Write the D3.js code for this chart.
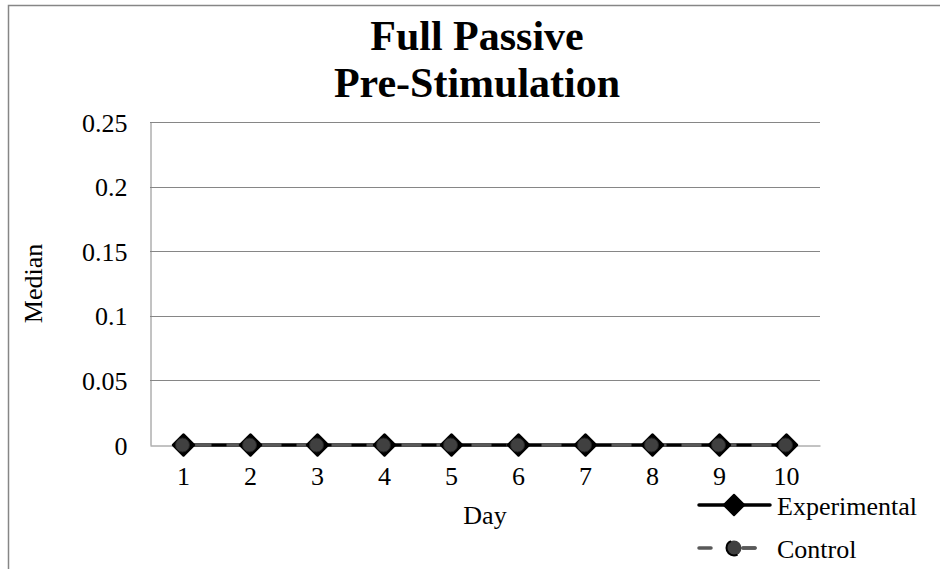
<!DOCTYPE html>
<html>
<head>
<meta charset="utf-8">
<script src="https://cdn.jsdelivr.net/npm/d3@7"></script>
<style>
  html, body { margin: 0; padding: 0; background: #fff; }
  svg { display: block; }
  text { font-family: "Liberation Serif", "Times New Roman", serif; fill: #000; }
</style>
</head>
<body>
<script>
const days = [1, 2, 3, 4, 5, 6, 7, 8, 9, 10];
const experimental = [0, 0, 0, 0, 0, 0, 0, 0, 0, 0];
const control = [0, 0, 0, 0, 0, 0, 0, 0, 0, 0];
const yTicks = [0, 0.05, 0.1, 0.15, 0.2, 0.25];
const titleLines = ["Full Passive", "Pre-Stimulation"];
const seriesNames = ["Experimental", "Control"];

const W = 940, H = 569;
const m = { left: 150, right: 120, top: 122, bottom: 124 };
const FS = 26;

const svg = d3.select("body").append("svg").attr("width", W).attr("height", H);

// outer chart border (only top and left visible in frame)
svg.append("rect")
  .attr("x", 8.5).attr("y", 5.5)
  .attr("width", 960).attr("height", 600)
  .attr("fill", "none").attr("stroke", "#868686").attr("stroke-width", 1.5);

const x = d3.scaleBand().domain(days).range([m.left, W - m.right]);
const y = d3.scaleLinear().domain([0, 0.25]).range([H - m.bottom, m.top]);

// gridlines
svg.append("g").selectAll("line").data(yTicks.filter(d => d > 0)).join("line")
  .attr("x1", m.left).attr("x2", W - m.right)
  .attr("y1", d => Math.round(y(d)) + 0.5).attr("y2", d => Math.round(y(d)) + 0.5)
  .attr("stroke", "#868686").attr("stroke-width", 1);

// y axis
const yAxis = svg.append("g")
  .attr("transform", `translate(${m.left + 0.5},0)`)
  .call(d3.axisLeft(y).tickValues(yTicks).tickSize(0).tickPadding(23).tickFormat(d => String(d)));
yAxis.attr("font-size", FS).attr("font-family", null);
yAxis.select(".domain").attr("stroke", "#868686").attr("stroke-width", 1);
yAxis.selectAll("text").attr("dy", "0.35em");

// x axis
const xAxis = svg.append("g")
  .attr("transform", `translate(0,${Math.round(y(0)) + 0.5})`)
  .call(d3.axisBottom(x).tickSize(0).tickPadding(21));
xAxis.attr("font-size", FS).attr("font-family", null);
xAxis.select(".domain").attr("stroke", "#868686").attr("stroke-width", 1);

// axis titles
svg.append("text")
  .attr("transform", `translate(42,${(y(0) + y(0.25)) / 2}) rotate(-90)`)
  .attr("text-anchor", "middle").attr("font-size", FS).text("Median");
svg.append("text")
  .attr("x", (m.left + W - m.right) / 2).attr("y", 524)
  .attr("text-anchor", "middle").attr("font-size", FS).text("Day");

// title
svg.append("g").selectAll("text").data(titleLines).join("text")
  .attr("x", 477)
  .attr("y", (d, i) => 50 + i * 47)
  .attr("text-anchor", "middle").attr("font-size", 42).attr("font-weight", "bold")
  .text(d => d);

const cx = (d, i) => x(days[i]) + x.bandwidth() / 2;
const line = d3.line().x((d, i) => x(days[i]) + x.bandwidth() / 2).y(d => y(d));

// experimental line
svg.append("path").datum(experimental)
  .attr("d", line).attr("fill", "none").attr("stroke", "#000").attr("stroke-width", 3.5);
// control line (dashed)
svg.append("path").datum(control)
  .attr("d", line).attr("fill", "none").attr("stroke", "#595959").attr("stroke-width", 3.5)
  .attr("stroke-dasharray", "20,15").attr("stroke-dashoffset", -8);

const diamond = d3.symbol().type(d3.symbolSquare).size(210);

// experimental markers
svg.append("g").selectAll("path").data(experimental).join("path")
  .attr("d", diamond())
  .attr("transform", (d, i) => `translate(${cx(d, i)},${y(d)}) rotate(45)`)
  .attr("fill", "#000").attr("stroke", "#000").attr("stroke-width", 3).attr("stroke-linejoin", "round");
// control markers
svg.append("g").selectAll("circle").data(control).join("circle")
  .attr("cx", (d, i) => cx(d, i) - 1).attr("cy", d => y(d))
  .attr("r", 7).attr("fill", "#404040").attr("stroke", "#222").attr("stroke-width", 1);

// legend
const lg = svg.append("g");
const legY = [505, 548];
// experimental
lg.append("line").attr("x1", 699).attr("x2", 770).attr("y1", legY[0]).attr("y2", legY[0])
  .attr("stroke", "#000").attr("stroke-width", 3.5).attr("stroke-linecap", "round");
lg.append("path").attr("d", diamond())
  .attr("transform", `translate(734,${legY[0]}) rotate(45)`)
  .attr("fill", "#000").attr("stroke", "#000").attr("stroke-width", 2).attr("stroke-linejoin", "round");
// control
lg.append("line").attr("x1", 699).attr("x2", 770).attr("y1", legY[1]).attr("y2", legY[1])
  .attr("stroke", "#595959").attr("stroke-width", 3.5).attr("stroke-linecap", "round")
  .attr("stroke-dasharray", "12,32");
lg.append("line").attr("x1", 743).attr("x2", 755).attr("y1", legY[1]).attr("y2", legY[1])
  .attr("stroke", "#595959").attr("stroke-width", 3.5).attr("stroke-linecap", "round");
lg.append("circle").attr("cx", 734).attr("cy", legY[1]).attr("r", 7.5)
  .attr("fill", "#404040").attr("stroke", "#000").attr("stroke-width", 2)
  .attr("stroke-dasharray", "24,24").attr("stroke-dashoffset", -8);
lg.selectAll("text.lab").data(seriesNames).join("text").attr("class", "lab")
  .attr("x", 777).attr("y", (d, i) => legY[i] + 10)
  .attr("font-size", FS).text(d => d);
</script>
</body>
</html>
